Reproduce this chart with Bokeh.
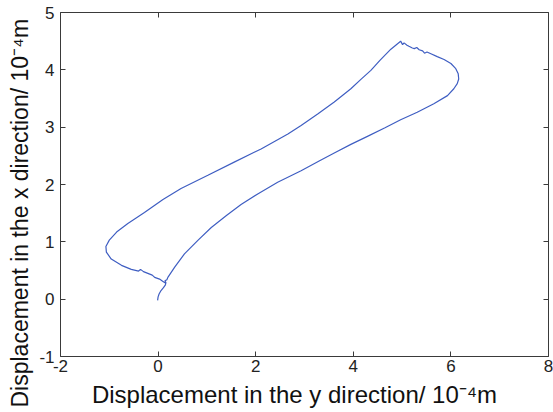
from bokeh.plotting import figure
from bokeh.models import LinearAxis, FixedTicker, Range1d, Title
from bokeh.embed import file_html
from bokeh.resources import INLINE

# Horizontal: displacement in the y direction (1e-4 m); vertical: displacement in the x direction (1e-4 m)
y_dir_disp = [-0.01, 0.00, 0.02, 0.06, 0.11, 0.15, 0.16, 0.14, 0.18, 0.20,
              0.34, 0.54, 0.82, 1.09, 1.40, 1.70, 2.05, 2.45, 2.93, 3.30,
              3.61, 3.95, 4.29, 4.65, 4.97, 5.31, 5.65, 5.93, 6.06, 6.13,
              6.16, 6.15, 6.10, 6.00, 5.86, 5.72, 5.59, 5.51, 5.46, 5.42,
              5.35, 5.30, 5.25, 5.21, 5.14, 5.10, 5.04, 5.01, 4.97,
              4.77, 4.55, 4.36, 4.15, 3.95, 3.61, 3.27, 2.93, 2.66, 2.11,
              1.56, 1.02, 0.47, 0.10, -0.28, -0.62, -0.85, -1.00, -1.07, -1.06,
              -0.96, -0.75, -0.55, -0.40, -0.36, -0.30, -0.21, -0.12, -0.07, 0.03,
              0.10, 0.15]
x_dir_disp = [-0.02, 0.04, 0.09, 0.15, 0.20, 0.25, 0.29, 0.32, 0.34, 0.38,
              0.56, 0.79, 1.03, 1.25, 1.46, 1.65, 1.84, 2.04, 2.24, 2.41,
              2.55, 2.70, 2.84, 2.99, 3.13, 3.26, 3.41, 3.55, 3.67, 3.76,
              3.84, 3.93, 4.02, 4.11, 4.18, 4.23, 4.28, 4.31, 4.29, 4.33,
              4.35, 4.39, 4.37, 4.38, 4.41, 4.43, 4.47, 4.44, 4.50,
              4.36, 4.17, 3.99, 3.83, 3.67, 3.44, 3.23, 3.03, 2.88, 2.62,
              2.39, 2.16, 1.93, 1.74, 1.51, 1.32, 1.17, 1.03, 0.92, 0.82,
              0.70, 0.59, 0.52, 0.49, 0.52, 0.48, 0.45, 0.42, 0.38, 0.35,
              0.31, 0.28]

x_ticks = [-2, 0, 2, 4, 6, 8]
y_ticks = [-1, 0, 1, 2, 3, 4, 5]
x_tick_labels = ["-2", "0", "2", "4", "6", "8"]
y_tick_labels = ["-1", "0", "1", "2", "3", "4", "5"]
NB = "\u00a0"
x_label = "Displacement in the y direction/ 10\u207b\u2074m" + NB * 3
y_label = "Displacement in the x direction/ 10\u207b\u2074m"

FONT = "Liberation Sans"
AXIS_COL = "#3a3a3a"

p = figure(width=553, height=412, output_backend="svg", toolbar_location=None,
           x_range=Range1d(-2, 8), y_range=Range1d(-1, 5),
           min_border_left=59, min_border_right=5, min_border_top=12, min_border_bottom=56,
           x_axis_location=None, y_axis_location=None)
p.background_fill_color = "white"
p.border_fill_color = "white"
p.outline_line_color = None
p.xgrid.visible = False
p.ygrid.visible = False


def base_style(ax):
    ax.axis_line_color = AXIS_COL
    ax.axis_line_width = 1
    ax.major_tick_line_color = AXIS_COL
    ax.minor_tick_line_color = AXIS_COL
    ax.major_tick_in = 5
    ax.major_tick_out = 0
    ax.minor_tick_in = 5
    ax.minor_tick_out = 0


def labelled(ax, ticks, labels, standoff):
    base_style(ax)
    ax.ticker = FixedTicker(ticks=ticks)
    ax.major_label_overrides = {t: s for t, s in zip(ticks, labels)}
    ax.major_label_standoff = standoff
    ax.major_label_text_font = FONT
    ax.major_label_text_font_size = "17px"
    ax.major_label_text_color = "#222222"


def mirror(ax, ticks):
    base_style(ax)
    # mirrored box ticks without labels: drawn as (label-less) minor ticks
    ax.ticker = FixedTicker(ticks=[], minor_ticks=ticks)
    ax.major_label_standoff = 0


xb = LinearAxis(); labelled(xb, x_ticks, x_tick_labels, 3)
xb.axis_label = x_label
xb.axis_label_text_font = FONT
xb.axis_label_text_font_size = "24px"
xb.axis_label_text_font_style = "normal"
xb.axis_label_text_color = "#111111"
xb.axis_label_standoff = 6

yl = LinearAxis(); labelled(yl, y_ticks, y_tick_labels, 6)
xt = LinearAxis(); mirror(xt, x_ticks)
yr = LinearAxis(); mirror(yr, y_ticks)
p.add_layout(xb, "below")
p.add_layout(xt, "above")
p.add_layout(yl, "left")
p.add_layout(yr, "right")

ytitle = Title(text=y_label, align="left", offset=-51, standoff=8,
               text_font=FONT, text_font_size="23px", text_font_style="normal",
               text_color="#111111")
p.add_layout(ytitle, "left")

p.line(y_dir_disp, x_dir_disp, line_color="#3f5ec2", line_width=1.2)

open("out.html", "w").write(file_html(p, INLINE))
